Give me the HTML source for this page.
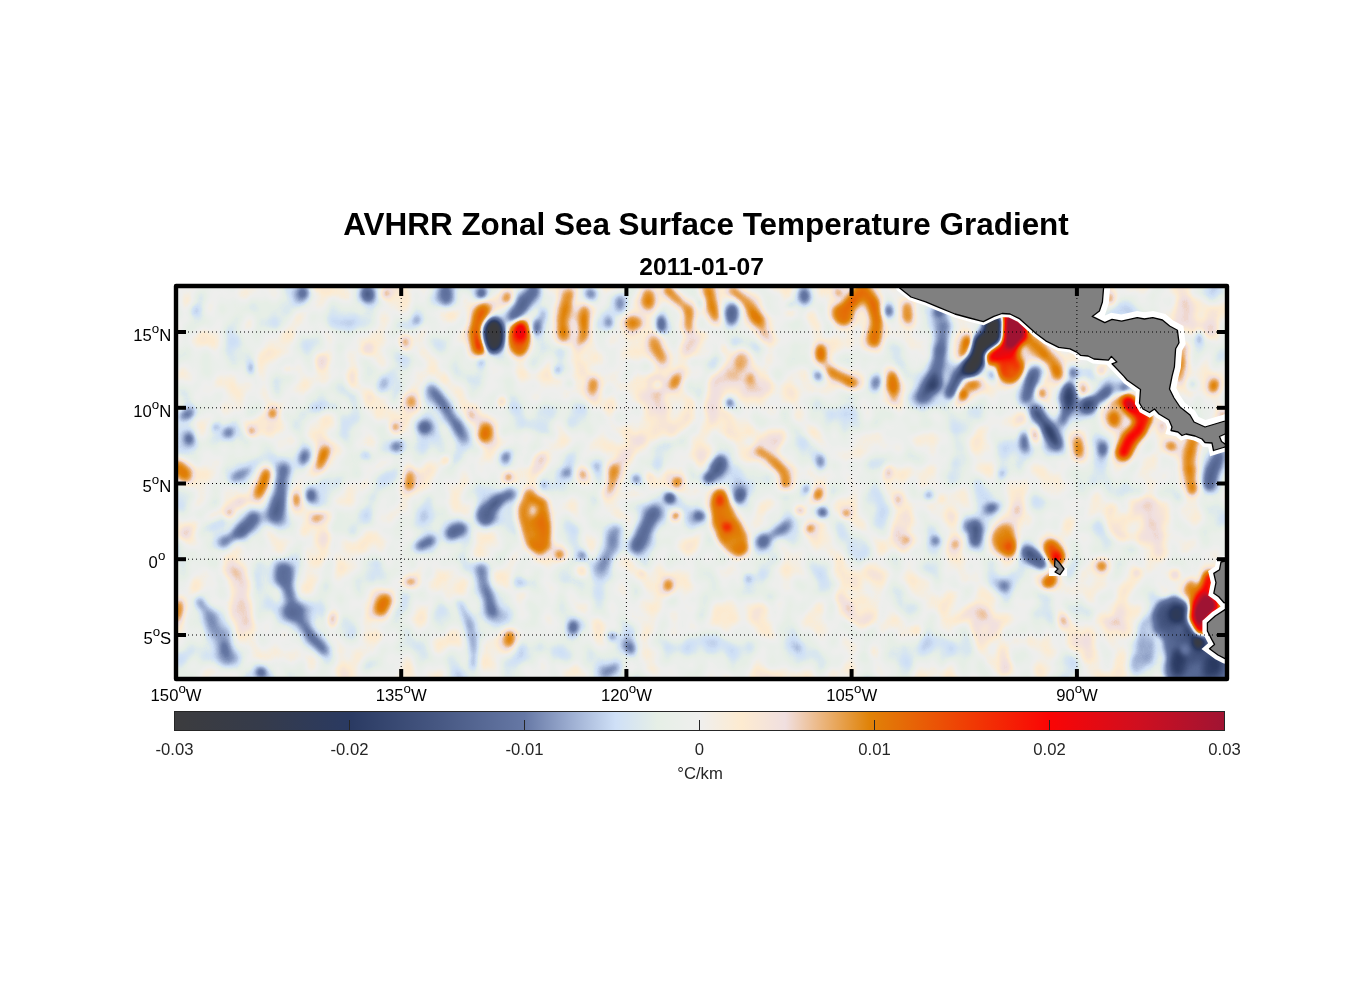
<!DOCTYPE html>
<html><head><meta charset="utf-8"><title>AVHRR Zonal Sea Surface Temperature Gradient</title>
<style>html,body{margin:0;padding:0;background:#fff}svg{display:block}text{font-family:"Liberation Sans",Arial,Helvetica,sans-serif}</style></head><body>
<svg width="1356" height="1000" viewBox="0 0 1356 1000">
<defs>
<clipPath id="mc"><rect x="176" y="286" width="1051" height="393"/></clipPath>
<filter id="cm" x="156" y="266" width="1091" height="433" filterUnits="userSpaceOnUse" color-interpolation-filters="sRGB">
<feGaussianBlur in="SourceGraphic" stdDeviation="3" result="b"/>
<feTurbulence type="fractalNoise" baseFrequency="0.036 0.03" numOctaves="2" seed="7" result="n"/>
<feColorMatrix in="n" type="matrix" values="1 0 0 0 0  1 0 0 0 0  1 0 0 0 0  0 0 0 0 1" result="ng"/>
<feComposite in="b" in2="ng" operator="arithmetic" k1="0" k2="1" k3="0.18" k4="-0.09" result="f"/>
<feComponentTransfer in="f"><feFuncR type="table" tableValues="0.235 0.234 0.232 0.231 0.230 0.228 0.227 0.225 0.224 0.223 0.221 0.220 0.218 0.217 0.216 0.214 0.213 0.211 0.210 0.208 0.207 0.204 0.202 0.200 0.198 0.195 0.193 0.191 0.189 0.187 0.184 0.182 0.180 0.178 0.175 0.173 0.171 0.169 0.167 0.166 0.171 0.177 0.182 0.188 0.194 0.199 0.205 0.211 0.216 0.222 0.228 0.233 0.239 0.245 0.250 0.256 0.262 0.267 0.273 0.279 0.286 0.292 0.299 0.305 0.311 0.318 0.324 0.331 0.337 0.342 0.347 0.351 0.356 0.361 0.365 0.370 0.375 0.380 0.384 0.389 0.394 0.398 0.410 0.425 0.441 0.456 0.471 0.487 0.502 0.517 0.533 0.548 0.563 0.583 0.602 0.620 0.639 0.657 0.675 0.693 0.712 0.730 0.748 0.767 0.785 0.803 0.816 0.825 0.834 0.847 0.861 0.874 0.887 0.900 0.906 0.912 0.917 0.922 0.927 0.932 0.937 0.945 0.953 0.961 0.969 0.977 0.985 0.991 0.984 0.977 0.970 0.963 0.955 0.951 0.946 0.941 0.939 0.937 0.935 0.933 0.931 0.929 0.927 0.925 0.921 0.918 0.914 0.910 0.906 0.904 0.901 0.899 0.897 0.894 0.892 0.889 0.887 0.885 0.882 0.880 0.879 0.881 0.882 0.884 0.885 0.887 0.889 0.890 0.892 0.893 0.895 0.897 0.898 0.901 0.904 0.907 0.910 0.913 0.916 0.919 0.922 0.925 0.928 0.931 0.934 0.937 0.940 0.943 0.945 0.947 0.950 0.952 0.954 0.957 0.959 0.961 0.964 0.966 0.968 0.971 0.973 0.975 0.978 0.980 0.974 0.965 0.956 0.947 0.938 0.929 0.920 0.911 0.902 0.893 0.884 0.875 0.866 0.857 0.848 0.839 0.830 0.821 0.812 0.802 0.791 0.781 0.771 0.761 0.750 0.740 0.730 0.720 0.709 0.699 0.689 0.679 0.668 0.658 0.648 0.638 0.627"/><feFuncG type="table" tableValues="0.235 0.235 0.235 0.235 0.234 0.234 0.234 0.234 0.234 0.233 0.233 0.233 0.233 0.233 0.232 0.232 0.232 0.232 0.232 0.231 0.231 0.231 0.231 0.231 0.230 0.230 0.230 0.230 0.230 0.229 0.229 0.229 0.229 0.229 0.228 0.228 0.228 0.228 0.228 0.228 0.234 0.240 0.246 0.252 0.258 0.263 0.269 0.275 0.281 0.287 0.293 0.299 0.304 0.310 0.316 0.322 0.328 0.334 0.340 0.346 0.353 0.359 0.366 0.373 0.379 0.386 0.393 0.399 0.406 0.411 0.416 0.420 0.425 0.430 0.435 0.440 0.445 0.450 0.454 0.459 0.464 0.469 0.481 0.496 0.511 0.526 0.541 0.556 0.571 0.586 0.601 0.616 0.631 0.650 0.669 0.687 0.705 0.724 0.742 0.760 0.778 0.797 0.815 0.833 0.851 0.870 0.881 0.887 0.893 0.902 0.910 0.919 0.927 0.936 0.937 0.937 0.937 0.937 0.937 0.937 0.937 0.935 0.933 0.930 0.928 0.926 0.924 0.921 0.914 0.907 0.901 0.894 0.888 0.883 0.879 0.874 0.855 0.836 0.818 0.799 0.780 0.762 0.743 0.725 0.707 0.690 0.673 0.655 0.638 0.627 0.617 0.606 0.595 0.585 0.574 0.563 0.553 0.542 0.531 0.521 0.511 0.504 0.497 0.490 0.483 0.476 0.469 0.461 0.454 0.447 0.440 0.433 0.426 0.413 0.399 0.386 0.373 0.359 0.346 0.333 0.319 0.306 0.293 0.280 0.266 0.253 0.240 0.227 0.214 0.201 0.189 0.176 0.163 0.150 0.138 0.125 0.112 0.099 0.086 0.074 0.061 0.048 0.035 0.023 0.021 0.023 0.025 0.028 0.030 0.032 0.034 0.036 0.038 0.040 0.043 0.045 0.047 0.049 0.051 0.053 0.055 0.057 0.059 0.060 0.061 0.062 0.063 0.065 0.066 0.067 0.068 0.069 0.070 0.071 0.072 0.073 0.074 0.075 0.076 0.077 0.078"/><feFuncB type="table" tableValues="0.243 0.246 0.248 0.251 0.254 0.256 0.259 0.262 0.264 0.267 0.269 0.272 0.275 0.277 0.280 0.282 0.285 0.288 0.290 0.293 0.297 0.301 0.306 0.311 0.315 0.320 0.325 0.329 0.334 0.339 0.343 0.348 0.352 0.357 0.362 0.366 0.371 0.376 0.380 0.385 0.392 0.398 0.405 0.411 0.418 0.424 0.430 0.437 0.443 0.450 0.456 0.463 0.469 0.476 0.482 0.489 0.495 0.501 0.508 0.515 0.522 0.529 0.536 0.543 0.550 0.557 0.564 0.571 0.578 0.584 0.589 0.594 0.599 0.604 0.609 0.614 0.620 0.625 0.630 0.635 0.640 0.645 0.655 0.668 0.680 0.692 0.705 0.717 0.729 0.742 0.754 0.766 0.779 0.794 0.810 0.824 0.838 0.852 0.866 0.879 0.893 0.907 0.921 0.934 0.948 0.962 0.965 0.959 0.952 0.942 0.933 0.923 0.913 0.903 0.906 0.910 0.915 0.920 0.924 0.929 0.933 0.916 0.899 0.882 0.865 0.848 0.830 0.817 0.826 0.835 0.843 0.852 0.861 0.867 0.873 0.876 0.833 0.789 0.745 0.702 0.658 0.614 0.571 0.527 0.486 0.446 0.405 0.364 0.323 0.298 0.273 0.248 0.223 0.198 0.173 0.148 0.123 0.098 0.073 0.048 0.031 0.031 0.030 0.030 0.030 0.029 0.029 0.028 0.028 0.028 0.027 0.027 0.026 0.026 0.025 0.024 0.023 0.023 0.022 0.021 0.020 0.020 0.019 0.018 0.017 0.017 0.016 0.016 0.016 0.016 0.017 0.017 0.017 0.017 0.017 0.018 0.018 0.018 0.018 0.019 0.019 0.019 0.019 0.020 0.024 0.029 0.035 0.040 0.046 0.052 0.057 0.063 0.068 0.074 0.079 0.085 0.090 0.096 0.101 0.107 0.113 0.118 0.123 0.127 0.132 0.136 0.140 0.145 0.149 0.153 0.157 0.162 0.166 0.170 0.174 0.179 0.183 0.187 0.191 0.196 0.200"/></feComponentTransfer>
</filter>
<filter id="sf" x="146" y="256" width="1111" height="453" filterUnits="userSpaceOnUse" color-interpolation-filters="sRGB"><feGaussianBlur stdDeviation="2"/></filter>
<linearGradient id="cb" x1="0" x2="1" y1="0" y2="0">
<stop offset="0.0000" stop-color="#3c3c3e"/>
<stop offset="0.0833" stop-color="#353b4b"/>
<stop offset="0.1667" stop-color="#2a3a62"/>
<stop offset="0.2500" stop-color="#465782"/>
<stop offset="0.3333" stop-color="#6678a5"/>
<stop offset="0.3750" stop-color="#9aabcf"/>
<stop offset="0.4200" stop-color="#cfe0f7"/>
<stop offset="0.4600" stop-color="#e6efe6"/>
<stop offset="0.5000" stop-color="#efefee"/>
<stop offset="0.5400" stop-color="#fdebd0"/>
<stop offset="0.5817" stop-color="#f0dfe0"/>
<stop offset="0.6133" stop-color="#ecb987"/>
<stop offset="0.6617" stop-color="#e08308"/>
<stop offset="0.7567" stop-color="#f03c04"/>
<stop offset="0.8333" stop-color="#fa0505"/>
<stop offset="0.9167" stop-color="#d00f1f"/>
<stop offset="1.0000" stop-color="#a01433"/>
</linearGradient>
</defs>
<rect width="1356" height="1000" fill="#fff"/>
<g clip-path="url(#mc)"><g filter="url(#cm)">
<rect x="156" y="266" width="1091" height="433" fill="#7d7d7d"/>
<g filter="url(#sf)">
<ellipse cx="303.7" cy="293" rx="10.6" ry="12.3" fill="#707070"/>
<ellipse cx="367" cy="294" rx="11.45" ry="13.15" fill="#707070"/>
<ellipse cx="385.5" cy="294" rx="8.5" ry="8.5" fill="#8b8b8b"/>
<ellipse cx="405.7" cy="342.4" rx="8.5" ry="12.5" fill="#8b8b8b"/>
<ellipse cx="411.6" cy="400.9" rx="10.5" ry="11.5" fill="#8b8b8b"/>
<ellipse cx="424.5" cy="427.6" rx="11.45" ry="11.45" fill="#707070"/>
<ellipse cx="272" cy="413.7" rx="9.5" ry="9.5" fill="#8b8b8b"/>
<ellipse cx="187" cy="414.7" rx="13.15" ry="9.75" fill="#707070" transform="rotate(-25 187 414.7)"/>
<ellipse cx="189" cy="438.5" rx="9.325" ry="10.6" fill="#707070"/>
<ellipse cx="228.5" cy="432.5" rx="10.6" ry="10.6" fill="#707070"/>
<ellipse cx="395.8" cy="446.4" rx="10.6" ry="11.45" fill="#707070" transform="rotate(30 395.8 446.4)"/>
<ellipse cx="322.5" cy="458.3" rx="10.5" ry="17.5" fill="#8b8b8b" transform="rotate(25 322.5 458.3)"/>
<ellipse cx="304.7" cy="456.3" rx="10.6" ry="13.15" fill="#707070" transform="rotate(20 304.7 456.3)"/>
<ellipse cx="241" cy="474" rx="17.4" ry="9.75" fill="#707070" transform="rotate(-30 241 474)"/>
<ellipse cx="182" cy="470" rx="12.5" ry="18.5" fill="#8b8b8b" transform="rotate(-35 182 470)"/>
<ellipse cx="408.7" cy="478" rx="9.5" ry="13.5" fill="#8b8b8b"/>
<ellipse cx="366" cy="455.3" rx="8.05" ry="8.05" fill="#707070"/>
<ellipse cx="445" cy="296" rx="13.15" ry="15.7" fill="#707070"/>
<ellipse cx="481.6" cy="293" rx="8.9" ry="10.6" fill="#707070"/>
<ellipse cx="507.3" cy="297" rx="11.5" ry="12.5" fill="#8b8b8b"/>
<path d="M534 290 L514 318" fill="none" stroke="#707070" stroke-width="23.5" stroke-linecap="round" stroke-linejoin="round"/>
<path d="M482.6 310.8 L475.6 329.6 L480.6 348.4" fill="none" stroke="#8b8b8b" stroke-width="24.85" stroke-linecap="round" stroke-linejoin="round"/>
<ellipse cx="493.5" cy="335.5" rx="16.5" ry="22.5" fill="#707070"/>
<ellipse cx="519.5" cy="338" rx="16.5" ry="23.5" fill="#8b8b8b"/>
<ellipse cx="520.5" cy="332" rx="13.5" ry="16.5" fill="#8b8b8b"/>
<ellipse cx="537" cy="325.6" rx="9.75" ry="14" fill="#707070"/>
<path d="M570 294 L566 308 L562 322 L564 338" fill="none" stroke="#8b8b8b" stroke-width="21" stroke-linecap="round" stroke-linejoin="round"/>
<path d="M584 308 L584 330 L582 346" fill="none" stroke="#8b8b8b" stroke-width="19" stroke-linecap="round" stroke-linejoin="round"/>
<ellipse cx="590.5" cy="294" rx="10.6" ry="10.6" fill="#707070"/>
<ellipse cx="620.2" cy="302.8" rx="9.75" ry="13.15" fill="#707070"/>
<ellipse cx="633" cy="323.6" rx="14.5" ry="12.5" fill="#8b8b8b"/>
<ellipse cx="648" cy="299" rx="12.5" ry="16.5" fill="#8b8b8b"/>
<ellipse cx="667.7" cy="289" rx="10.5" ry="7.5" fill="#8b8b8b"/>
<ellipse cx="660.8" cy="324.6" rx="8.9" ry="14.85" fill="#707070"/>
<path d="M668 290 L678 300 L689 312 L689 330" fill="none" stroke="#8b8b8b" stroke-width="18" stroke-linecap="round" stroke-linejoin="round"/>
<path d="M653 341 L664 361" fill="none" stroke="#8b8b8b" stroke-width="19" stroke-linecap="round" stroke-linejoin="round"/>
<ellipse cx="592.5" cy="385" rx="10.5" ry="14.5" fill="#8b8b8b"/>
<ellipse cx="674.7" cy="383" rx="9.5" ry="13.5" fill="#8b8b8b" transform="rotate(25 674.7 383)"/>
<ellipse cx="481.6" cy="362" rx="7.5" ry="10.6" fill="#707070"/>
<path d="M431 388 L441 400 L452 418 L464 438" fill="none" stroke="#707070" stroke-width="20" stroke-linecap="round" stroke-linejoin="round"/>
<ellipse cx="485.5" cy="432.5" rx="11.5" ry="14.5" fill="#8b8b8b" transform="rotate(15 485.5 432.5)"/>
<ellipse cx="470.7" cy="414.7" rx="7.5" ry="9.5" fill="#8b8b8b"/>
<ellipse cx="506.3" cy="456.3" rx="8.9" ry="11.45" fill="#707070" transform="rotate(20 506.3 456.3)"/>
<ellipse cx="508.3" cy="477" rx="8.5" ry="10.5" fill="#8b8b8b"/>
<ellipse cx="566.7" cy="473" rx="9.75" ry="8.05" fill="#707070"/>
<ellipse cx="582.6" cy="474" rx="7.5" ry="9.5" fill="#8b8b8b"/>
<ellipse cx="596.4" cy="466" rx="8.05" ry="8.05" fill="#707070"/>
<ellipse cx="636" cy="479" rx="8.9" ry="8.9" fill="#707070"/>
<ellipse cx="650" cy="477" rx="7.5" ry="9.5" fill="#8b8b8b"/>
<ellipse cx="677.6" cy="481" rx="9.5" ry="8.5" fill="#8b8b8b"/>
<path d="M708 288 L712 300 L716 318" fill="none" stroke="#8b8b8b" stroke-width="18" stroke-linecap="round" stroke-linejoin="round"/>
<path d="M733 290 L748 306 L760 322" fill="none" stroke="#8b8b8b" stroke-width="21" stroke-linecap="round" stroke-linejoin="round"/>
<path d="M760 322 L767 338" fill="none" stroke="#8b8b8b" stroke-width="17" stroke-linecap="round" stroke-linejoin="round"/>
<ellipse cx="731.7" cy="315.7" rx="11.45" ry="15.7" fill="#707070"/>
<ellipse cx="804" cy="296" rx="10.6" ry="14" fill="#707070"/>
<ellipse cx="838.6" cy="293" rx="8.5" ry="9.5" fill="#8b8b8b"/>
<path d="M840 316 L848 306 L857 295 L862 288" fill="none" stroke="#8b8b8b" stroke-width="24.85" stroke-linecap="round" stroke-linejoin="round"/>
<ellipse cx="842.6" cy="314.7" rx="16.5" ry="16.5" fill="#8b8b8b"/>
<path d="M864 290 L873 303 L877 320 L874 342" fill="none" stroke="#8b8b8b" stroke-width="23.7" stroke-linecap="round" stroke-linejoin="round"/>
<ellipse cx="889.1" cy="310.8" rx="8.9" ry="11.45" fill="#707070"/>
<ellipse cx="908" cy="312.5" rx="12" ry="17.5" fill="#8b8b8b"/>
<ellipse cx="820.8" cy="353.3" rx="9.5" ry="14.5" fill="#8b8b8b"/>
<path d="M830 371 L842 378 L854 384" fill="none" stroke="#8b8b8b" stroke-width="18.5" stroke-linecap="round" stroke-linejoin="round"/>
<ellipse cx="817.9" cy="376" rx="8.9" ry="8.9" fill="#707070"/>
<ellipse cx="876.3" cy="383" rx="10.6" ry="14" fill="#707070" transform="rotate(15 876.3 383)"/>
<ellipse cx="893.1" cy="383" rx="12" ry="18" fill="#8b8b8b"/>
<ellipse cx="893" cy="398" rx="7.5" ry="9.5" fill="#8b8b8b"/>
<ellipse cx="741.6" cy="361.2" rx="13.5" ry="15.5" fill="#8b8b8b"/>
<ellipse cx="722.8" cy="349.4" rx="7.5" ry="7.5" fill="#8b8b8b"/>
<ellipse cx="729.7" cy="402.8" rx="8.9" ry="10.6" fill="#707070"/>
<path d="M945 326 L941 350" fill="none" stroke="#707070" stroke-width="21.5" stroke-linecap="round" stroke-linejoin="round"/>
<path d="M940 350 L934 378 L922 398" fill="none" stroke="#707070" stroke-width="24.5" stroke-linecap="round" stroke-linejoin="round"/>
<ellipse cx="934" cy="382" rx="13" ry="16" fill="#707070"/>
<path d="M968 362 L958 378 L950 394" fill="none" stroke="#707070" stroke-width="21.5" stroke-linecap="round" stroke-linejoin="round"/>
<ellipse cx="965.4" cy="347.4" rx="10.5" ry="17.5" fill="#8b8b8b" transform="rotate(20 965.4 347.4)"/>
<ellipse cx="963.4" cy="395" rx="8.5" ry="10.5" fill="#8b8b8b"/>
<ellipse cx="939.6" cy="311.7" rx="9.75" ry="8.9" fill="#707070"/>
<ellipse cx="718" cy="466" rx="13" ry="17" fill="#707070" transform="rotate(25 718 466)"/>
<ellipse cx="709" cy="478" rx="9.75" ry="9.75" fill="#707070"/>
<path d="M761 451 L772 461 L782 470 L786 482" fill="none" stroke="#8b8b8b" stroke-width="18" stroke-linecap="round" stroke-linejoin="round"/>
<ellipse cx="820.8" cy="462.2" rx="8.9" ry="13.15" fill="#707070"/>
<path d="M1016 336 L1004 349 L992 357" fill="none" stroke="#8b8b8b" stroke-width="28.3" stroke-linecap="round" stroke-linejoin="round"/>
<ellipse cx="1010.5" cy="369" rx="19.5" ry="19.5" fill="#8b8b8b"/>
<ellipse cx="1010" cy="352" rx="14.5" ry="14.5" fill="#8b8b8b"/>
<path d="M1028 338 L1040 350 L1052 363 L1058 375" fill="none" stroke="#8b8b8b" stroke-width="23" stroke-linecap="round" stroke-linejoin="round"/>
<ellipse cx="1041.3" cy="393" rx="10.5" ry="12.5" fill="#8b8b8b"/>
<ellipse cx="1046" cy="380" rx="7.5" ry="9.5" fill="#8b8b8b"/>
<ellipse cx="974" cy="385" rx="12.5" ry="9.5" fill="#8b8b8b" transform="rotate(-20 974 385)"/>
<ellipse cx="968" cy="341.4" rx="8.5" ry="8.5" fill="#8b8b8b"/>
<path d="M1035 370 L1030 385 L1026 400" fill="none" stroke="#707070" stroke-width="18.5" stroke-linecap="round" stroke-linejoin="round"/>
<ellipse cx="1069" cy="396.9" rx="13" ry="20" fill="#707070"/>
<ellipse cx="1073" cy="372" rx="8.9" ry="11.45" fill="#707070"/>
<path d="M1034 410 L1046 425 L1057 444" fill="none" stroke="#707070" stroke-width="21.5" stroke-linecap="round" stroke-linejoin="round"/>
<ellipse cx="1050" cy="432" rx="12" ry="15" fill="#707070" transform="rotate(-30 1050 432)"/>
<path d="M1068 405 L1062 422" fill="none" stroke="#707070" stroke-width="18.5" stroke-linecap="round" stroke-linejoin="round"/>
<ellipse cx="1088.8" cy="404.8" rx="14" ry="14" fill="#707070"/>
<path d="M1084 408 L1095 400 L1108 392" fill="none" stroke="#707070" stroke-width="18.5" stroke-linecap="round" stroke-linejoin="round"/>
<ellipse cx="1024.4" cy="442.4" rx="9.75" ry="15.7" fill="#707070"/>
<ellipse cx="1001.7" cy="474" rx="8.05" ry="8.05" fill="#707070"/>
<ellipse cx="991.8" cy="375" rx="8.05" ry="8.05" fill="#707070"/>
<ellipse cx="1079" cy="446.4" rx="9.5" ry="16.5" fill="#8b8b8b"/>
<ellipse cx="1082.9" cy="389" rx="7.5" ry="11.5" fill="#8b8b8b"/>
<ellipse cx="1100.7" cy="371" rx="8.5" ry="9.5" fill="#8b8b8b"/>
<ellipse cx="1035.3" cy="434.5" rx="7.5" ry="11.5" fill="#8b8b8b"/>
<ellipse cx="1021.5" cy="418.7" rx="7.5" ry="7.5" fill="#8b8b8b"/>
<ellipse cx="1102.7" cy="448.4" rx="8.05" ry="11.45" fill="#707070"/>
<path d="M1127 400 L1134 410 L1144 418 L1140 428 L1130 440 L1124 452" fill="none" stroke="#8b8b8b" stroke-width="26.575" stroke-linecap="round" stroke-linejoin="round"/>
<ellipse cx="1114" cy="419" rx="10.5" ry="14.5" fill="#8b8b8b"/>
<path d="M1112 404 L1124 399" fill="none" stroke="#8b8b8b" stroke-width="16" stroke-linecap="round" stroke-linejoin="round"/>
<ellipse cx="1129" cy="405" rx="11.5" ry="11.5" fill="#8b8b8b"/>
<ellipse cx="1124" cy="456" rx="10.5" ry="8.5" fill="#8b8b8b"/>
<path d="M1193 312 L1188 328 L1185 345 L1181 360 L1178 378" fill="none" stroke="#8b8b8b" stroke-width="17.5" stroke-linecap="round" stroke-linejoin="round"/>
<ellipse cx="1214" cy="386" rx="8.5" ry="12.5" fill="#8b8b8b" transform="rotate(20 1214 386)"/>
<ellipse cx="1110.8" cy="299.6" rx="7.5" ry="10.5" fill="#8b8b8b"/>
<ellipse cx="1171" cy="446" rx="10.5" ry="9.5" fill="#8b8b8b"/>
<ellipse cx="1162" cy="425" rx="7.5" ry="10.5" fill="#8b8b8b"/>
<path d="M1193 440 L1189 458 L1190 482" fill="none" stroke="#8b8b8b" stroke-width="23" stroke-linecap="round" stroke-linejoin="round"/>
<path d="M1219 456 L1213 468 L1208 484" fill="none" stroke="#707070" stroke-width="23.5" stroke-linecap="round" stroke-linejoin="round"/>
<path d="M1100 396 L1110 388" fill="none" stroke="#707070" stroke-width="16.5" stroke-linecap="round" stroke-linejoin="round"/>
<ellipse cx="1125" cy="388" rx="8.05" ry="8.05" fill="#707070"/>
<ellipse cx="1103" cy="450" rx="8.9" ry="11.45" fill="#707070"/>
<ellipse cx="1223.4" cy="414.7" rx="7.5" ry="7.5" fill="#8b8b8b"/>
<path d="M267 472 L259 494" fill="none" stroke="#8b8b8b" stroke-width="21" stroke-linecap="round" stroke-linejoin="round"/>
<path d="M283 470 L281 490 L275 515" fill="none" stroke="#707070" stroke-width="24.5" stroke-linecap="round" stroke-linejoin="round"/>
<path d="M254 518 L240 532" fill="none" stroke="#707070" stroke-width="24.5" stroke-linecap="round" stroke-linejoin="round"/>
<path d="M240 532 L222 543" fill="none" stroke="#707070" stroke-width="18.5" stroke-linecap="round" stroke-linejoin="round"/>
<ellipse cx="310.7" cy="495" rx="9.75" ry="12.3" fill="#707070"/>
<ellipse cx="296.8" cy="499.8" rx="7.5" ry="11.5" fill="#8b8b8b"/>
<ellipse cx="318.6" cy="517.7" rx="13.5" ry="10.5" fill="#8b8b8b" transform="rotate(-30 318.6 517.7)"/>
<ellipse cx="409.7" cy="486" rx="8.5" ry="8.5" fill="#8b8b8b"/>
<ellipse cx="425.5" cy="543.4" rx="16.55" ry="10.175" fill="#707070" transform="rotate(-25 425.5 543.4)"/>
<path d="M281 568 L288 590 L296 612" fill="none" stroke="#707070" stroke-width="22.5" stroke-linecap="round" stroke-linejoin="round"/>
<path d="M298 618 L311 636 L324 651" fill="none" stroke="#707070" stroke-width="18" stroke-linecap="round" stroke-linejoin="round"/>
<ellipse cx="285" cy="576" rx="14.85" ry="18.25" fill="#707070"/>
<ellipse cx="294" cy="611" rx="14.85" ry="15.7" fill="#707070" transform="rotate(-20 294 611)"/>
<path d="M210 616 L220 635 L228 658" fill="none" stroke="#707070" stroke-width="24.5" stroke-linecap="round" stroke-linejoin="round"/>
<ellipse cx="225" cy="648" rx="9.75" ry="13.15" fill="#707070"/>
<ellipse cx="179" cy="610" rx="9.5" ry="18.5" fill="#8b8b8b" transform="rotate(8 179 610)"/>
<ellipse cx="384" cy="604.8" rx="12.5" ry="16.5" fill="#8b8b8b" transform="rotate(30 384 604.8)"/>
<ellipse cx="409.7" cy="582" rx="11.5" ry="8.5" fill="#8b8b8b"/>
<ellipse cx="261" cy="672" rx="8.9" ry="8.9" fill="#707070"/>
<ellipse cx="455.8" cy="531.5" rx="17.4" ry="11.45" fill="#707070" transform="rotate(-25 455.8 531.5)"/>
<ellipse cx="485" cy="515" rx="14" ry="15.7" fill="#707070"/>
<path d="M488 510 L498 500 L510 494" fill="none" stroke="#707070" stroke-width="20.5" stroke-linecap="round" stroke-linejoin="round"/>
<ellipse cx="559.8" cy="555.3" rx="8.5" ry="8.5" fill="#8b8b8b"/>
<path d="M614 468 L609 492" fill="none" stroke="#8b8b8b" stroke-width="19" stroke-linecap="round" stroke-linejoin="round"/>
<ellipse cx="543" cy="486" rx="8.05" ry="8.05" fill="#707070"/>
<path d="M616 528 L612 548 L600 568" fill="none" stroke="#707070" stroke-width="21.5" stroke-linecap="round" stroke-linejoin="round"/>
<ellipse cx="582.6" cy="555.3" rx="8.9" ry="8.9" fill="#707070"/>
<path d="M655 512 L645 528 L636 546" fill="none" stroke="#707070" stroke-width="24.5" stroke-linecap="round" stroke-linejoin="round"/>
<ellipse cx="669.7" cy="497.9" rx="9.75" ry="9.75" fill="#707070"/>
<ellipse cx="675.6" cy="515.7" rx="10.5" ry="8.5" fill="#8b8b8b" transform="rotate(-30 675.6 515.7)"/>
<ellipse cx="699.4" cy="515.7" rx="10.6" ry="9.75" fill="#707070"/>
<ellipse cx="675.6" cy="485" rx="8.5" ry="7.5" fill="#8b8b8b"/>
<path d="M480 568 L486 590 L493 612" fill="none" stroke="#707070" stroke-width="21.5" stroke-linecap="round" stroke-linejoin="round"/>
<ellipse cx="510.3" cy="638.5" rx="10.5" ry="14.5" fill="#8b8b8b"/>
<ellipse cx="572.7" cy="626.6" rx="9.75" ry="12.3" fill="#707070"/>
<ellipse cx="668.7" cy="585" rx="7.5" ry="10.5" fill="#8b8b8b"/>
<ellipse cx="581.6" cy="572" rx="7.5" ry="7.5" fill="#8b8b8b"/>
<ellipse cx="630" cy="648.4" rx="9.75" ry="12.3" fill="#707070" transform="rotate(-30 630 648.4)"/>
<ellipse cx="610.3" cy="670" rx="15.7" ry="9.75" fill="#707070" transform="rotate(-30 610.3 670)"/>
<ellipse cx="720" cy="500" rx="10.5" ry="13.5" fill="#8b8b8b"/>
<ellipse cx="727" cy="527" rx="11.5" ry="10.5" fill="#8b8b8b"/>
<ellipse cx="740.6" cy="495.9" rx="9.75" ry="12.3" fill="#707070" transform="rotate(20 740.6 495.9)"/>
<ellipse cx="763.4" cy="541.4" rx="12.3" ry="13.15" fill="#707070"/>
<path d="M768 538 L780 530 L789 524" fill="none" stroke="#707070" stroke-width="16.5" stroke-linecap="round" stroke-linejoin="round"/>
<ellipse cx="822.8" cy="512.7" rx="10.6" ry="10.6" fill="#707070"/>
<ellipse cx="807" cy="489" rx="8.05" ry="9.75" fill="#707070"/>
<ellipse cx="817.9" cy="494.9" rx="8.5" ry="11.5" fill="#8b8b8b" transform="rotate(30 817.9 494.9)"/>
<ellipse cx="785.2" cy="485" rx="9.5" ry="7.5" fill="#8b8b8b"/>
<ellipse cx="900" cy="517.7" rx="7.5" ry="7.5" fill="#8b8b8b"/>
<ellipse cx="907" cy="539.4" rx="8.5" ry="8.5" fill="#8b8b8b"/>
<ellipse cx="955.5" cy="544.4" rx="8.5" ry="7.5" fill="#8b8b8b"/>
<ellipse cx="966.4" cy="526.6" rx="7.5" ry="12.3" fill="#707070"/>
<ellipse cx="975" cy="533.5" rx="11.45" ry="19.1" fill="#707070"/>
<ellipse cx="991.8" cy="507.8" rx="12.3" ry="8.9" fill="#707070" transform="rotate(-20 991.8 507.8)"/>
<ellipse cx="1003.6" cy="539.4" rx="17.5" ry="19.5" fill="#8b8b8b"/>
<ellipse cx="1010.6" cy="547.4" rx="12.5" ry="14.5" fill="#8b8b8b"/>
<ellipse cx="1017.5" cy="509.7" rx="7.5" ry="7.5" fill="#8b8b8b"/>
<ellipse cx="1035.3" cy="558.3" rx="20" ry="13" fill="#707070" transform="rotate(40 1035.3 558.3)"/>
<ellipse cx="1054" cy="552" rx="14.5" ry="18.5" fill="#8b8b8b" transform="rotate(-35 1054 552)"/>
<ellipse cx="1057" cy="558" rx="11.5" ry="12.5" fill="#8b8b8b"/>
<ellipse cx="1049.2" cy="582" rx="13.5" ry="10.5" fill="#8b8b8b" transform="rotate(-40 1049.2 582)"/>
<ellipse cx="1063" cy="620.6" rx="7.5" ry="10.5" fill="#8b8b8b"/>
<ellipse cx="1101.7" cy="566.2" rx="9.5" ry="9.5" fill="#8b8b8b"/>
<ellipse cx="1175" cy="575" rx="8.5" ry="8.5" fill="#8b8b8b"/>
<ellipse cx="1004.6" cy="586" rx="9.75" ry="10.6" fill="#707070"/>
<ellipse cx="1191.8" cy="489" rx="10.5" ry="11.5" fill="#8b8b8b"/>
<ellipse cx="1210.6" cy="488" rx="8.05" ry="8.05" fill="#707070"/>
<ellipse cx="1179.7" cy="613.9" rx="18" ry="16" fill="#707070"/>
<ellipse cx="1198.2" cy="639.4" rx="11" ry="15" fill="#707070"/>
<ellipse cx="1178.3" cy="662.2" rx="14" ry="20" fill="#707070"/>
<ellipse cx="1212.4" cy="667.8" rx="17" ry="17" fill="#707070"/>
<ellipse cx="1192" cy="628" rx="14" ry="14" fill="#707070"/>
<ellipse cx="1191" cy="588.3" rx="12.5" ry="14.5" fill="#8b8b8b"/>
<path d="M1209 578 L1205 590 L1196 604 L1194 618 L1201 630" fill="none" stroke="#8b8b8b" stroke-width="24.85" stroke-linecap="round" stroke-linejoin="round"/>
<ellipse cx="1217" cy="602" rx="7.5" ry="7.5" fill="#8b8b8b"/>
<path d="M180 536 L215 515 L240 502 L262 490" fill="none" stroke="#8e8e8e" stroke-width="9" stroke-linecap="round" stroke-linejoin="round"/>
<path d="M230 560 L236 600 L250 640" fill="none" stroke="#898989" stroke-width="15" stroke-linecap="round" stroke-linejoin="round"/>
<path d="M534 290 L514 318" fill="none" stroke="#444444" stroke-width="10.5" stroke-linecap="round" stroke-linejoin="round"/>
<path d="M482.6 310.8 L475.6 329.6 L480.6 348.4" fill="none" stroke="#c2c2c2" stroke-width="11.85" stroke-linecap="round" stroke-linejoin="round"/>
<path d="M570 294 L566 308 L562 322 L564 338" fill="none" stroke="#b0b0b0" stroke-width="8" stroke-linecap="round" stroke-linejoin="round"/>
<path d="M584 308 L584 330 L582 346" fill="none" stroke="#bababa" stroke-width="6" stroke-linecap="round" stroke-linejoin="round"/>
<path d="M668 290 L678 300 L689 312 L689 330" fill="none" stroke="#c1c1c1" stroke-width="5" stroke-linecap="round" stroke-linejoin="round"/>
<path d="M653 341 L664 361" fill="none" stroke="#adadad" stroke-width="6" stroke-linecap="round" stroke-linejoin="round"/>
<path d="M431 388 L441 400 L452 418 L464 438" fill="none" stroke="#494949" stroke-width="7" stroke-linecap="round" stroke-linejoin="round"/>
<path d="M708 288 L712 300 L716 318" fill="none" stroke="#bababa" stroke-width="5" stroke-linecap="round" stroke-linejoin="round"/>
<path d="M733 290 L748 306 L760 322" fill="none" stroke="#b5b5b5" stroke-width="8" stroke-linecap="round" stroke-linejoin="round"/>
<path d="M760 322 L767 338" fill="none" stroke="#adadad" stroke-width="4" stroke-linecap="round" stroke-linejoin="round"/>
<path d="M840 316 L848 306 L857 295 L862 288" fill="none" stroke="#bdbdbd" stroke-width="11.85" stroke-linecap="round" stroke-linejoin="round"/>
<path d="M864 290 L873 303 L877 320 L874 342" fill="none" stroke="#c2c2c2" stroke-width="10.7" stroke-linecap="round" stroke-linejoin="round"/>
<path d="M830 371 L842 378 L854 384" fill="none" stroke="#c4c4c4" stroke-width="5.5" stroke-linecap="round" stroke-linejoin="round"/>
<path d="M945 326 L941 350" fill="none" stroke="#535353" stroke-width="8.5" stroke-linecap="round" stroke-linejoin="round"/>
<path d="M940 350 L934 378 L922 398" fill="none" stroke="#3d3d3d" stroke-width="11.5" stroke-linecap="round" stroke-linejoin="round"/>
<path d="M761 451 L772 461 L782 470 L786 482" fill="none" stroke="#c1c1c1" stroke-width="5" stroke-linecap="round" stroke-linejoin="round"/>
<path d="M1028 338 L1040 350 L1052 363 L1058 375" fill="none" stroke="#b3b3b3" stroke-width="10" stroke-linecap="round" stroke-linejoin="round"/>
<path d="M1035 370 L1030 385 L1026 400" fill="none" stroke="#323232" stroke-width="5.5" stroke-linecap="round" stroke-linejoin="round"/>
<path d="M1034 410 L1046 425 L1057 444" fill="none" stroke="#313131" stroke-width="8.5" stroke-linecap="round" stroke-linejoin="round"/>
<path d="M1068 405 L1062 422" fill="none" stroke="#2a2a2a" stroke-width="5.5" stroke-linecap="round" stroke-linejoin="round"/>
<path d="M1084 408 L1095 400 L1108 392" fill="none" stroke="#2a2a2a" stroke-width="5.5" stroke-linecap="round" stroke-linejoin="round"/>
<path d="M1112 404 L1124 399" fill="none" stroke="#c7c7c7" stroke-width="3" stroke-linecap="round" stroke-linejoin="round"/>
<path d="M1193 312 L1188 328 L1185 345 L1181 360 L1178 378" fill="none" stroke="#c1c1c1" stroke-width="4.5" stroke-linecap="round" stroke-linejoin="round"/>
<path d="M1193 440 L1189 458 L1190 482" fill="none" stroke="#aeaeae" stroke-width="10" stroke-linecap="round" stroke-linejoin="round"/>
<path d="M1219 456 L1213 468 L1208 484" fill="none" stroke="#3f3f3f" stroke-width="10.5" stroke-linecap="round" stroke-linejoin="round"/>
<path d="M1100 396 L1110 388" fill="none" stroke="#2a2a2a" stroke-width="3.5" stroke-linecap="round" stroke-linejoin="round"/>
<path d="M267 472 L259 494" fill="none" stroke="#c0c0c0" stroke-width="8" stroke-linecap="round" stroke-linejoin="round"/>
<path d="M283 470 L281 490 L275 515" fill="none" stroke="#464646" stroke-width="11.5" stroke-linecap="round" stroke-linejoin="round"/>
<path d="M254 518 L240 532" fill="none" stroke="#464646" stroke-width="11.5" stroke-linecap="round" stroke-linejoin="round"/>
<path d="M240 532 L222 543" fill="none" stroke="#393939" stroke-width="5.5" stroke-linecap="round" stroke-linejoin="round"/>
<path d="M281 568 L288 590 L296 612" fill="none" stroke="#4b4b4b" stroke-width="9.5" stroke-linecap="round" stroke-linejoin="round"/>
<path d="M298 618 L311 636 L324 651" fill="none" stroke="#3c3c3c" stroke-width="5" stroke-linecap="round" stroke-linejoin="round"/>
<path d="M199 601 L210 616" fill="none" stroke="#545454" stroke-width="6.5" stroke-linecap="round" stroke-linejoin="round"/>
<path d="M210 616 L220 635 L228 658" fill="none" stroke="#5d5d5d" stroke-width="11.5" stroke-linecap="round" stroke-linejoin="round"/>
<path d="M488 510 L498 500 L510 494" fill="none" stroke="#373737" stroke-width="7.5" stroke-linecap="round" stroke-linejoin="round"/>
<path d="M614 468 L609 492" fill="none" stroke="#bababa" stroke-width="6" stroke-linecap="round" stroke-linejoin="round"/>
<path d="M616 528 L612 548 L600 568" fill="none" stroke="#535353" stroke-width="8.5" stroke-linecap="round" stroke-linejoin="round"/>
<path d="M655 512 L645 528 L636 546" fill="none" stroke="#4d4d4d" stroke-width="11.5" stroke-linecap="round" stroke-linejoin="round"/>
<path d="M480 568 L486 590 L493 612" fill="none" stroke="#4a4a4a" stroke-width="8.5" stroke-linecap="round" stroke-linejoin="round"/>
<path d="M460 603 L470 625 L475 650 L473 665" fill="none" stroke="#575757" stroke-width="6.5" stroke-linecap="round" stroke-linejoin="round"/>
<path d="M768 538 L780 530 L789 524" fill="none" stroke="#393939" stroke-width="3.5" stroke-linecap="round" stroke-linejoin="round"/>
</g>
<ellipse cx="265" cy="424.6" rx="25" ry="10" fill="#898989"/>
<ellipse cx="324.5" cy="406.8" rx="15" ry="6" fill="#737373"/>
<ellipse cx="322.5" cy="362" rx="7" ry="8" fill="#8b8b8b"/>
<ellipse cx="287" cy="369" rx="5" ry="5" fill="#8e8e8e"/>
<ellipse cx="369" cy="349" rx="6" ry="6" fill="#8e8e8e"/>
<ellipse cx="352" cy="381" rx="4" ry="10" fill="#8a8a8a"/>
<ellipse cx="243" cy="603" rx="10" ry="38" fill="#878787"/>
<ellipse cx="314.6" cy="543.4" rx="14" ry="25" fill="#888888"/>
<ellipse cx="862" cy="611" rx="18" ry="15" fill="#888888"/>
<ellipse cx="955" cy="607" rx="15" ry="18" fill="#898989"/>
<ellipse cx="840.6" cy="579" rx="6" ry="25" fill="#898989"/>
<ellipse cx="902" cy="523.6" rx="10" ry="30" fill="#878787"/>
<ellipse cx="874" cy="646" rx="6" ry="10" fill="#898989"/>
<ellipse cx="917" cy="630.5" rx="8" ry="5" fill="#8a8a8a"/>
<ellipse cx="539" cy="464" rx="8" ry="12" fill="#8c8c8c" transform="rotate(30 539 464)"/>
<ellipse cx="650" cy="410" rx="45" ry="35" fill="#878787"/>
<ellipse cx="740" cy="400" rx="35" ry="40" fill="#878787"/>
<ellipse cx="590" cy="360" rx="14" ry="22" fill="#898989"/>
<ellipse cx="700" cy="345" rx="20" ry="14" fill="#898989"/>
<ellipse cx="770" cy="430" rx="16" ry="22" fill="#898989"/>
<ellipse cx="1195" cy="320" rx="25" ry="25" fill="#878787"/>
<ellipse cx="1140" cy="520" rx="35" ry="25" fill="#878787"/>
<ellipse cx="1100" cy="640" rx="30" ry="25" fill="#878787"/>
<ellipse cx="990" cy="640" rx="14" ry="40" fill="#898989" transform="rotate(-25 990 640)"/>
<ellipse cx="303.7" cy="293" rx="4.6" ry="6.3" fill="#4a4a4a"/>
<ellipse cx="367" cy="294" rx="5.45" ry="7.15" fill="#414141"/>
<ellipse cx="385.5" cy="294" rx="2.5" ry="2.5" fill="#bebebe"/>
<ellipse cx="251.2" cy="368.2" rx="2.9" ry="7.15" fill="#575757"/>
<ellipse cx="382" cy="386" rx="6" ry="9" fill="#696969" transform="rotate(20 382 386)"/>
<ellipse cx="416.6" cy="320.7" rx="5" ry="5" fill="#636363"/>
<ellipse cx="405.7" cy="342.4" rx="2.5" ry="6.5" fill="#aeaeae"/>
<ellipse cx="411.6" cy="400.9" rx="4.5" ry="5.5" fill="#a4a4a4"/>
<ellipse cx="424.5" cy="427.6" rx="5.45" ry="5.45" fill="#464646"/>
<ellipse cx="272" cy="413.7" rx="3.5" ry="3.5" fill="#b6b6b6"/>
<ellipse cx="251" cy="431.5" rx="4" ry="4" fill="#a4a4a4"/>
<ellipse cx="187" cy="414.7" rx="7.15" ry="3.75" fill="#494949" transform="rotate(-25 187 414.7)"/>
<ellipse cx="189" cy="438.5" rx="3.325" ry="4.6" fill="#444444"/>
<ellipse cx="228.5" cy="432.5" rx="4.6" ry="4.6" fill="#484848"/>
<ellipse cx="215.6" cy="426.6" rx="3.75" ry="2.05" fill="#4c4c4c" transform="rotate(-30 215.6 426.6)"/>
<ellipse cx="394.8" cy="427" rx="3.5" ry="2.5" fill="#b2b2b2"/>
<ellipse cx="395.8" cy="446.4" rx="4.6" ry="5.45" fill="#4d4d4d" transform="rotate(30 395.8 446.4)"/>
<ellipse cx="322.5" cy="458.3" rx="4.5" ry="11.5" fill="#adadad" transform="rotate(25 322.5 458.3)"/>
<ellipse cx="304.7" cy="456.3" rx="4.6" ry="7.15" fill="#4d4d4d" transform="rotate(20 304.7 456.3)"/>
<ellipse cx="241" cy="474" rx="11.4" ry="3.75" fill="#555555" transform="rotate(-30 241 474)"/>
<ellipse cx="182" cy="470" rx="6.5" ry="12.5" fill="#ababab" transform="rotate(-35 182 470)"/>
<ellipse cx="408.7" cy="478" rx="3.5" ry="7.5" fill="#a8a8a8"/>
<ellipse cx="366" cy="455.3" rx="2.05" ry="2.05" fill="#444444"/>
<ellipse cx="195" cy="310" rx="5" ry="6" fill="#727272"/>
<ellipse cx="445" cy="296" rx="7.15" ry="9.7" fill="#545454"/>
<ellipse cx="481.6" cy="293" rx="2.9" ry="4.6" fill="#2e2e2e"/>
<ellipse cx="507.3" cy="297" rx="5.5" ry="6.5" fill="#adadad"/>
<ellipse cx="493.5" cy="335.5" rx="10.5" ry="16.5" fill="#000000"/>
<ellipse cx="519.5" cy="338" rx="10.5" ry="17.5" fill="#c4c4c4"/>
<ellipse cx="520.5" cy="332" rx="7.5" ry="10.5" fill="#dedede"/>
<ellipse cx="537" cy="325.6" rx="3.75" ry="8" fill="#464646"/>
<ellipse cx="543" cy="315.7" rx="2.05" ry="8" fill="#555555"/>
<ellipse cx="590.5" cy="294" rx="4.6" ry="4.6" fill="#4e4e4e"/>
<ellipse cx="620.2" cy="302.8" rx="3.75" ry="7.15" fill="#4e4e4e"/>
<ellipse cx="609.3" cy="322.6" rx="2.05" ry="5.45" fill="#4c4c4c"/>
<ellipse cx="633" cy="323.6" rx="8.5" ry="6.5" fill="#a9a9a9"/>
<ellipse cx="648" cy="299" rx="6.5" ry="10.5" fill="#a8a8a8"/>
<ellipse cx="667.7" cy="289" rx="4.5" ry="1.5" fill="#cecece"/>
<ellipse cx="660.8" cy="324.6" rx="2.9" ry="8.85" fill="#313131"/>
<ellipse cx="592.5" cy="385" rx="4.5" ry="8.5" fill="#a7a7a7"/>
<ellipse cx="674.7" cy="383" rx="3.5" ry="7.5" fill="#a8a8a8" transform="rotate(25 674.7 383)"/>
<ellipse cx="556.8" cy="371" rx="2.05" ry="4.6" fill="#4c4c4c"/>
<ellipse cx="569.7" cy="383" rx="2.05" ry="2.05" fill="#4c4c4c"/>
<ellipse cx="481.6" cy="362" rx="1.5" ry="4.6" fill="#3c3c3c"/>
<ellipse cx="485.5" cy="432.5" rx="5.5" ry="8.5" fill="#aeaeae" transform="rotate(15 485.5 432.5)"/>
<ellipse cx="470.7" cy="414.7" rx="1.5" ry="3.5" fill="#b6b6b6"/>
<ellipse cx="502.4" cy="400.9" rx="1.5" ry="4.5" fill="#b2b2b2"/>
<ellipse cx="546" cy="439.5" rx="1.5" ry="1.5" fill="#b2b2b2"/>
<ellipse cx="506.3" cy="456.3" rx="2.9" ry="5.45" fill="#454545" transform="rotate(20 506.3 456.3)"/>
<ellipse cx="508.3" cy="477" rx="2.5" ry="4.5" fill="#bebebe"/>
<ellipse cx="566.7" cy="473" rx="3.75" ry="2.05" fill="#3c3c3c"/>
<ellipse cx="582.6" cy="474" rx="1.5" ry="3.5" fill="#b6b6b6"/>
<ellipse cx="596.4" cy="466" rx="2.05" ry="2.05" fill="#444444"/>
<ellipse cx="636" cy="479" rx="2.9" ry="2.9" fill="#333333"/>
<ellipse cx="650" cy="477" rx="1.5" ry="3.5" fill="#b6b6b6"/>
<ellipse cx="677.6" cy="481" rx="3.5" ry="2.5" fill="#c6c6c6"/>
<ellipse cx="446" cy="460" rx="2.5" ry="2.5" fill="#b2b2b2"/>
<ellipse cx="657.8" cy="385" rx="3" ry="3" fill="#555555"/>
<ellipse cx="701" cy="304" rx="2.05" ry="6.3" fill="#4e4e4e"/>
<ellipse cx="731.7" cy="315.7" rx="5.45" ry="9.7" fill="#4a4a4a"/>
<ellipse cx="804" cy="296" rx="4.6" ry="8" fill="#4a4a4a"/>
<ellipse cx="790" cy="305" rx="3.75" ry="2.05" fill="#4c4c4c"/>
<ellipse cx="838.6" cy="293" rx="2.5" ry="3.5" fill="#bebebe"/>
<ellipse cx="842.6" cy="314.7" rx="10.5" ry="10.5" fill="#bbbbbb"/>
<ellipse cx="889.1" cy="310.8" rx="2.9" ry="5.45" fill="#3e3e3e"/>
<ellipse cx="908" cy="312.5" rx="6" ry="11.5" fill="#adadad"/>
<ellipse cx="820.8" cy="353.3" rx="3.5" ry="8.5" fill="#bababa"/>
<ellipse cx="817.9" cy="376" rx="2.9" ry="2.9" fill="#3c3c3c"/>
<ellipse cx="876.3" cy="383" rx="4.6" ry="8" fill="#4f4f4f" transform="rotate(15 876.3 383)"/>
<ellipse cx="893.1" cy="383" rx="6" ry="12" fill="#b1b1b1"/>
<ellipse cx="893" cy="398" rx="1.5" ry="3.5" fill="#b6b6b6"/>
<ellipse cx="741.6" cy="361.2" rx="7.5" ry="9.5" fill="#9f9f9f"/>
<ellipse cx="750" cy="378" rx="4" ry="6" fill="#9c9c9c"/>
<ellipse cx="722.8" cy="349.4" rx="1.5" ry="1.5" fill="#b6b6b6"/>
<ellipse cx="729.7" cy="402.8" rx="2.9" ry="4.6" fill="#474747"/>
<ellipse cx="934" cy="382" rx="7" ry="10" fill="#2d2d2d"/>
<path d="M968 362 L958 378 L950 394" fill="none" stroke="#333333" stroke-width="8.5" stroke-linecap="round" stroke-linejoin="round"/>
<ellipse cx="965.4" cy="347.4" rx="4.5" ry="11.5" fill="#bababa" transform="rotate(20 965.4 347.4)"/>
<ellipse cx="963.4" cy="395" rx="2.5" ry="4.5" fill="#d6d6d6"/>
<ellipse cx="939.6" cy="311.7" rx="3.75" ry="2.9" fill="#3c3c3c"/>
<ellipse cx="718" cy="466" rx="7" ry="11" fill="#3f3f3f" transform="rotate(25 718 466)"/>
<ellipse cx="709" cy="478" rx="3.75" ry="3.75" fill="#292929"/>
<ellipse cx="820.8" cy="462.2" rx="2.9" ry="7.15" fill="#4e4e4e"/>
<ellipse cx="888" cy="472" rx="1.5" ry="6.5" fill="#b2b2b2"/>
<path d="M985 321 L1001 316 L1003 334 L999 344 L990 349 L986 361 L977 374 L965 377 L964 366 L972 352 L974 339 L984 331Z" fill="#000000"/>
<path d="M1016 336 L1004 349 L992 357" fill="none" stroke="#d9d9d9" stroke-width="15.3" stroke-linecap="round" stroke-linejoin="round"/>
<ellipse cx="1010.5" cy="369" rx="13.5" ry="13.5" fill="#cacaca"/>
<ellipse cx="1010" cy="352" rx="8.5" ry="8.5" fill="#d6d6d6"/>
<path d="M1003 312 L1011 312 L1026 325 L1027 337 L1018 347 L1006 349 L1002 336Z" fill="#ffffff"/>
<ellipse cx="1022" cy="356" rx="3" ry="5" fill="#8b8b8b"/>
<ellipse cx="1041.3" cy="393" rx="4.5" ry="6.5" fill="#b5b5b5"/>
<ellipse cx="1046" cy="380" rx="1.5" ry="3.5" fill="#bebebe"/>
<ellipse cx="974" cy="385" rx="6.5" ry="3.5" fill="#ababab" transform="rotate(-20 974 385)"/>
<ellipse cx="968" cy="341.4" rx="2.5" ry="2.5" fill="#cecece"/>
<ellipse cx="1069" cy="396.9" rx="7" ry="14" fill="#2e2e2e"/>
<ellipse cx="1073" cy="372" rx="2.9" ry="5.45" fill="#373737"/>
<ellipse cx="1050" cy="432" rx="6" ry="9" fill="#2b2b2b" transform="rotate(-30 1050 432)"/>
<ellipse cx="1088.8" cy="404.8" rx="8" ry="8" fill="#2c2c2c"/>
<ellipse cx="1024.4" cy="442.4" rx="3.75" ry="9.7" fill="#454545"/>
<ellipse cx="1001.7" cy="474" rx="2.05" ry="2.05" fill="#2a2a2a"/>
<ellipse cx="991.8" cy="375" rx="2.05" ry="2.05" fill="#3c3c3c"/>
<ellipse cx="1079" cy="446.4" rx="3.5" ry="10.5" fill="#a8a8a8"/>
<ellipse cx="1082.9" cy="389" rx="1.5" ry="5.5" fill="#bebebe"/>
<ellipse cx="1100.7" cy="371" rx="2.5" ry="3.5" fill="#bebebe"/>
<ellipse cx="1035.3" cy="434.5" rx="1.5" ry="5.5" fill="#b6b6b6"/>
<ellipse cx="1021.5" cy="418.7" rx="1.5" ry="1.5" fill="#b6b6b6"/>
<ellipse cx="1102.7" cy="448.4" rx="2.05" ry="5.45" fill="#3c3c3c"/>
<path d="M1127 400 L1134 410 L1144 418 L1140 428 L1130 440 L1124 452" fill="none" stroke="#d9d9d9" stroke-width="13.575" stroke-linecap="round" stroke-linejoin="round"/>
<ellipse cx="1114" cy="419" rx="4.5" ry="8.5" fill="#b0b0b0"/>
<ellipse cx="1129" cy="405" rx="5.5" ry="5.5" fill="#ffffff"/>
<ellipse cx="1124" cy="456" rx="4.5" ry="2.5" fill="#d6d6d6"/>
<ellipse cx="1214" cy="386" rx="2.5" ry="6.5" fill="#c1c1c1" transform="rotate(20 1214 386)"/>
<ellipse cx="1199.6" cy="336.8" rx="3" ry="7" fill="#616161"/>
<ellipse cx="1192.4" cy="384.8" rx="5" ry="5" fill="#636363"/>
<ellipse cx="1110.8" cy="299.6" rx="1.5" ry="4.5" fill="#bebebe"/>
<ellipse cx="1171" cy="446" rx="4.5" ry="3.5" fill="#aeaeae"/>
<ellipse cx="1162" cy="425" rx="1.5" ry="4.5" fill="#b6b6b6"/>
<ellipse cx="1125" cy="388" rx="2.05" ry="2.05" fill="#2a2a2a"/>
<ellipse cx="1103" cy="450" rx="2.9" ry="5.45" fill="#3e3e3e"/>
<ellipse cx="1223.4" cy="414.7" rx="1.5" ry="1.5" fill="#bebebe"/>
<ellipse cx="229.5" cy="513.7" rx="4.5" ry="2.5" fill="#b2b2b2" transform="rotate(-30 229.5 513.7)"/>
<ellipse cx="310.7" cy="495" rx="3.75" ry="6.3" fill="#404040"/>
<ellipse cx="296.8" cy="499.8" rx="1.5" ry="5.5" fill="#bebebe"/>
<ellipse cx="318.6" cy="517.7" rx="7.5" ry="4.5" fill="#a2a2a2" transform="rotate(-30 318.6 517.7)"/>
<ellipse cx="409.7" cy="486" rx="2.5" ry="2.5" fill="#c6c6c6"/>
<ellipse cx="425.5" cy="543.4" rx="10.55" ry="4.175" fill="#4c4c4c" transform="rotate(-25 425.5 543.4)"/>
<ellipse cx="285" cy="576" rx="8.85" ry="12.25" fill="#4a4a4a"/>
<ellipse cx="294" cy="611" rx="8.85" ry="9.7" fill="#4e4e4e" transform="rotate(-20 294 611)"/>
<ellipse cx="225" cy="648" rx="3.75" ry="7.15" fill="#494949"/>
<ellipse cx="179" cy="610" rx="3.5" ry="12.5" fill="#afafaf" transform="rotate(8 179 610)"/>
<ellipse cx="384" cy="604.8" rx="6.5" ry="10.5" fill="#b0b0b0" transform="rotate(30 384 604.8)"/>
<ellipse cx="409.7" cy="582" rx="5.5" ry="2.5" fill="#b3b3b3"/>
<ellipse cx="332.4" cy="620.6" rx="4.5" ry="7.5" fill="#9e9e9e"/>
<ellipse cx="261" cy="672" rx="2.9" ry="2.9" fill="#2a2a2a"/>
<ellipse cx="455.8" cy="531.5" rx="11.4" ry="5.45" fill="#4f4f4f" transform="rotate(-25 455.8 531.5)"/>
<ellipse cx="485" cy="515" rx="8" ry="9.7" fill="#474747"/>
<path d="M524 490 L530 488 L536 496 L548 500 L551 520 L551 548 L540 554 L528 548 L522 535 L518 520 L516 508 L520 498Z" fill="#a7a7a7"/>
<ellipse cx="533" cy="510" rx="4" ry="7" fill="#848484"/>
<ellipse cx="559.8" cy="555.3" rx="2.5" ry="2.5" fill="#c6c6c6"/>
<ellipse cx="543" cy="486" rx="2.05" ry="2.05" fill="#333333"/>
<ellipse cx="582.6" cy="555.3" rx="2.9" ry="2.9" fill="#333333"/>
<ellipse cx="669.7" cy="497.9" rx="3.75" ry="3.75" fill="#1a1a1a"/>
<ellipse cx="675.6" cy="515.7" rx="4.5" ry="2.5" fill="#d6d6d6" transform="rotate(-30 675.6 515.7)"/>
<ellipse cx="699.4" cy="515.7" rx="4.6" ry="3.75" fill="#3b3b3b"/>
<ellipse cx="675.6" cy="485" rx="2.5" ry="1.5" fill="#c6c6c6"/>
<ellipse cx="510.3" cy="638.5" rx="4.5" ry="8.5" fill="#b0b0b0"/>
<ellipse cx="572.7" cy="626.6" rx="3.75" ry="6.3" fill="#404040"/>
<ellipse cx="668.7" cy="585" rx="1.5" ry="4.5" fill="#c6c6c6"/>
<ellipse cx="642" cy="573" rx="1.5" ry="3.5" fill="#b2b2b2"/>
<ellipse cx="581.6" cy="572" rx="1.5" ry="1.5" fill="#b6b6b6"/>
<ellipse cx="630" cy="648.4" rx="3.75" ry="6.3" fill="#4b4b4b" transform="rotate(-30 630 648.4)"/>
<ellipse cx="610.3" cy="670" rx="9.7" ry="3.75" fill="#585858" transform="rotate(-30 610.3 670)"/>
<ellipse cx="612.3" cy="636.5" rx="3.75" ry="3.75" fill="#505050"/>
<ellipse cx="519.2" cy="583" rx="8" ry="6" fill="#696969"/>
<path d="M716 488 L724 487 L729 500 L736 515 L748 534 L749 550 L740 557 L728 553 L717 541 L711 525 L711 508 L713 495Z" fill="#acacac"/>
<ellipse cx="720" cy="500" rx="4.5" ry="7.5" fill="#cdcdcd"/>
<ellipse cx="727" cy="527" rx="5.5" ry="4.5" fill="#d2d2d2"/>
<ellipse cx="740.6" cy="495.9" rx="3.75" ry="6.3" fill="#404040" transform="rotate(20 740.6 495.9)"/>
<ellipse cx="763.4" cy="541.4" rx="6.3" ry="7.15" fill="#484848"/>
<ellipse cx="822.8" cy="512.7" rx="4.6" ry="4.6" fill="#363636"/>
<ellipse cx="807" cy="489" rx="2.05" ry="3.75" fill="#333333"/>
<ellipse cx="817.9" cy="494.9" rx="2.5" ry="5.5" fill="#bababa" transform="rotate(30 817.9 494.9)"/>
<ellipse cx="800" cy="510.7" rx="4.5" ry="3.5" fill="#ababab"/>
<ellipse cx="809" cy="528.6" rx="5.5" ry="3.5" fill="#a6a6a6" transform="rotate(-30 809 528.6)"/>
<ellipse cx="845.6" cy="513.7" rx="4.5" ry="3.5" fill="#ababab"/>
<ellipse cx="785.2" cy="485" rx="3.5" ry="1.5" fill="#c6c6c6"/>
<ellipse cx="900" cy="517.7" rx="1.5" ry="1.5" fill="#b6b6b6"/>
<ellipse cx="907" cy="539.4" rx="2.5" ry="2.5" fill="#b6b6b6"/>
<ellipse cx="898" cy="500" rx="2" ry="6" fill="#aaaaaa"/>
<ellipse cx="928.8" cy="494.9" rx="2.9" ry="5.45" fill="#545454"/>
<ellipse cx="935.7" cy="540.4" rx="3.75" ry="3.75" fill="#505050"/>
<ellipse cx="955.5" cy="544.4" rx="2.5" ry="1.5" fill="#b6b6b6"/>
<ellipse cx="941.6" cy="498.9" rx="1.5" ry="3.5" fill="#b2b2b2"/>
<ellipse cx="748.6" cy="578" rx="5" ry="5" fill="#636363"/>
<ellipse cx="966.4" cy="526.6" rx="1.5" ry="6.3" fill="#3c3c3c"/>
<ellipse cx="797" cy="648.4" rx="4" ry="4" fill="#6f6f6f"/>
<ellipse cx="975" cy="533.5" rx="5.45" ry="13.1" fill="#434343"/>
<ellipse cx="991.8" cy="507.8" rx="6.3" ry="2.9" fill="#444444" transform="rotate(-20 991.8 507.8)"/>
<ellipse cx="1003.6" cy="539.4" rx="11.5" ry="13.5" fill="#a7a7a7"/>
<ellipse cx="1010.6" cy="547.4" rx="6.5" ry="8.5" fill="#b9b9b9"/>
<ellipse cx="1017.5" cy="509.7" rx="1.5" ry="1.5" fill="#b6b6b6"/>
<ellipse cx="1035.3" cy="558.3" rx="14" ry="7" fill="#3b3b3b" transform="rotate(40 1035.3 558.3)"/>
<ellipse cx="1054" cy="552" rx="8.5" ry="12.5" fill="#c4c4c4" transform="rotate(-35 1054 552)"/>
<ellipse cx="1057" cy="558" rx="5.5" ry="6.5" fill="#ececec"/>
<ellipse cx="1049.2" cy="582" rx="7.5" ry="4.5" fill="#b7b7b7" transform="rotate(-40 1049.2 582)"/>
<ellipse cx="1063" cy="620.6" rx="1.5" ry="4.5" fill="#b6b6b6"/>
<ellipse cx="1101.7" cy="566.2" rx="3.5" ry="3.5" fill="#b6b6b6"/>
<ellipse cx="1137.3" cy="572" rx="1.5" ry="3.5" fill="#b2b2b2"/>
<ellipse cx="1175" cy="575" rx="2.5" ry="2.5" fill="#bebebe"/>
<ellipse cx="1004.6" cy="586" rx="3.75" ry="4.6" fill="#4f4f4f"/>
<ellipse cx="1191.8" cy="489" rx="4.5" ry="5.5" fill="#b4b4b4"/>
<ellipse cx="1210.6" cy="488" rx="2.05" ry="2.05" fill="#3c3c3c"/>
<path d="M1152 615 L1160 601 L1175 596 L1190 604 L1198 625 L1210 640 L1232 650 L1232 690 L1168 690 L1167 660 L1163 640 L1154 630Z" fill="#464646"/>
<ellipse cx="1146" cy="640" rx="9" ry="24" fill="#686868"/>
<ellipse cx="1137" cy="665" rx="8" ry="12" fill="#686868"/>
<ellipse cx="1179.7" cy="613.9" rx="12" ry="10" fill="#262626"/>
<ellipse cx="1198.2" cy="639.4" rx="5" ry="9" fill="#000000"/>
<ellipse cx="1178.3" cy="662.2" rx="8" ry="14" fill="#2a2a2a"/>
<ellipse cx="1212.4" cy="667.8" rx="11" ry="11" fill="#2f2f2f"/>
<ellipse cx="1192" cy="628" rx="8" ry="8" fill="#2c2c2c"/>
<ellipse cx="1184.5" cy="650" rx="3.5" ry="5" fill="#757575"/>
<ellipse cx="1166" cy="670" rx="2.9" ry="8" fill="#5c5c5c"/>
<ellipse cx="1191" cy="588.3" rx="6.5" ry="8.5" fill="#adadad"/>
<path d="M1209 578 L1205 590 L1196 604 L1194 618 L1201 630" fill="none" stroke="#d9d9d9" stroke-width="11.85" stroke-linecap="round" stroke-linejoin="round"/>
<path d="M1194.5 610 L1199.5 595 L1207 592.5 L1214 596.5 L1219 608.5 L1211 616 L1204 623 L1202 629.5 L1195 623Z" fill="#ffffff"/>
<ellipse cx="1217" cy="602" rx="1.5" ry="1.5" fill="#d6d6d6"/>
</g>
<path d="M897 282 L899.7 288 L911 297 L925.7 301.8 L937 306.7 L954.9 314 L969.5 318 L983.3 321.6 L993.8 316.4 L1002 313.5 L1010 314 L1019.8 318.9 L1027.9 326.2 L1036 333.5 L1045.7 340.8 L1058.7 347.3 L1070 348.9 L1077.2 352.4" fill="none" stroke="#fff" stroke-width="7" stroke-linejoin="miter"/>
<path d="M1077.2 352.4 L1080.8 355.4 L1088 356 L1094 359 L1108.4 360.2 L1111.4 356.4 L1116.8 362 L1112 363.8 L1124 376.4 L1127 380 L1140.5 389.5 L1139.5 403 L1143 409 L1149.5 412.5 L1154.5 409 L1159 414 L1169 420 L1172 427 L1171 430.5 L1178 432 L1182 435.5 L1186 434 L1195 436 L1202 439 L1205 442.5 L1212 443 L1213.5 450.5 L1225 447 L1234 444.5 L1234 444" fill="none" stroke="#fff" stroke-width="9" stroke-linejoin="miter"/>
<path d="M1234 444 L1225 444 L1221.5 441.5 L1219.5 436.5 L1225 434 L1234 431 L1234 418 L1225 421 L1205 427 L1194 422 L1190 415 L1180 407 L1174 398 L1169.5 389 L1172 376.4 L1174.4 366.8 L1175.6 348.8 L1179 342.8 L1177.4 330.2 L1169.6 326 L1162.4 320 L1152.8 317.6 L1144.4 319 L1137.2 317.6 L1121.6 321.2 L1112 319.4 L1104.8 322.6 L1092.2 316.4 L1099.4 311 L1102.4 302 L1103.6 287.6 L1104 282" fill="none" stroke="#fff" stroke-width="13" stroke-linejoin="miter"/>
<path d="M1234 560.5 L1225 561 L1221 562 L1219.5 569.8 L1213.8 573.4 L1216 582.6 L1213.8 593.3 L1218.8 596.8 L1223.8 602.5 L1234 605Z" fill="#fff" stroke="#fff" stroke-width="10" stroke-linejoin="miter"/>
<path d="M1234 607 L1225 609.6 L1215.2 616 L1207.4 623 L1207.4 631 L1211.7 639.4 L1214.5 644.4 L1209.5 648.7 L1218 655 L1225 658.6 L1234 661Z" fill="#fff" stroke="#fff" stroke-width="10" stroke-linejoin="miter"/>
<rect x="1049" y="568" width="18" height="8" fill="#fff"/>
<path d="M897 282 L899.7 288 L911 297 L925.7 301.8 L937 306.7 L954.9 314 L969.5 318 L983.3 321.6 L993.8 316.4 L1002 313.5 L1010 314 L1019.8 318.9 L1027.9 326.2 L1036 333.5 L1045.7 340.8 L1058.7 347.3 L1070 348.9 L1077.2 352.4 L1080.8 355.4 L1088 356 L1094 359 L1108.4 360.2 L1111.4 356.4 L1116.8 362 L1112 363.8 L1124 376.4 L1127 380 L1140.5 389.5 L1139.5 403 L1143 409 L1149.5 412.5 L1154.5 409 L1159 414 L1169 420 L1172 427 L1171 430.5 L1178 432 L1182 435.5 L1186 434 L1195 436 L1202 439 L1205 442.5 L1212 443 L1213.5 450.5 L1225 447 L1234 444.5 L1234 444 L1225 444 L1221.5 441.5 L1219.5 436.5 L1225 434 L1234 431 L1234 418 L1225 421 L1205 427 L1194 422 L1190 415 L1180 407 L1174 398 L1169.5 389 L1172 376.4 L1174.4 366.8 L1175.6 348.8 L1179 342.8 L1177.4 330.2 L1169.6 326 L1162.4 320 L1152.8 317.6 L1144.4 319 L1137.2 317.6 L1121.6 321.2 L1112 319.4 L1104.8 322.6 L1092.2 316.4 L1099.4 311 L1102.4 302 L1103.6 287.6 L1104 282Z" fill="#808080" stroke="#000" stroke-width="1.3" stroke-linejoin="round"/>
<path d="M1234 560.5 L1225 561 L1221 562 L1219.5 569.8 L1213.8 573.4 L1216 582.6 L1213.8 593.3 L1218.8 596.8 L1223.8 602.5 L1234 605Z" fill="#808080" stroke="#000" stroke-width="1.3" stroke-linejoin="round"/>
<path d="M1234 607 L1225 609.6 L1215.2 616 L1207.4 623 L1207.4 631 L1211.7 639.4 L1214.5 644.4 L1209.5 648.7 L1218 655 L1225 658.6 L1234 661Z" fill="#808080" stroke="#000" stroke-width="1.3" stroke-linejoin="round"/>
<path d="M1055.1 558.3 L1059 562.2 L1064 569 L1060 574.7 L1055 572 L1058 569 L1054.5 566Z" fill="#808080" stroke="#000" stroke-width="1.3" stroke-linejoin="round"/>
</g>
<g stroke="#000" stroke-width="1" stroke-dasharray="1 3" fill="none">
<line x1="401.2" x2="401.2" y1="286" y2="679"/>
<line x1="626.4" x2="626.4" y1="286" y2="679"/>
<line x1="851.6" x2="851.6" y1="286" y2="679"/>
<line x1="1076.9" x2="1076.9" y1="286" y2="679"/>
<line x1="176" x2="1227" y1="332.0" y2="332.0"/>
<line x1="176" x2="1227" y1="407.8" y2="407.8"/>
<line x1="176" x2="1227" y1="483.5" y2="483.5"/>
<line x1="176" x2="1227" y1="559.2" y2="559.2"/>
<line x1="176" x2="1227" y1="635.0" y2="635.0"/>
</g>
<g stroke="#000" stroke-width="4" fill="none">
<line x1="401.2" x2="401.2" y1="286" y2="296"/>
<line x1="401.2" x2="401.2" y1="679" y2="669"/>
<line x1="626.4" x2="626.4" y1="286" y2="296"/>
<line x1="626.4" x2="626.4" y1="679" y2="669"/>
<line x1="851.6" x2="851.6" y1="286" y2="296"/>
<line x1="851.6" x2="851.6" y1="679" y2="669"/>
<line x1="1076.9" x2="1076.9" y1="286" y2="296"/>
<line x1="1076.9" x2="1076.9" y1="679" y2="669"/>
<line x1="176" x2="186" y1="332.0" y2="332.0"/>
<line x1="1227" x2="1217" y1="332.0" y2="332.0"/>
<line x1="176" x2="186" y1="407.8" y2="407.8"/>
<line x1="1227" x2="1217" y1="407.8" y2="407.8"/>
<line x1="176" x2="186" y1="483.5" y2="483.5"/>
<line x1="1227" x2="1217" y1="483.5" y2="483.5"/>
<line x1="176" x2="186" y1="559.2" y2="559.2"/>
<line x1="1227" x2="1217" y1="559.2" y2="559.2"/>
<line x1="176" x2="186" y1="635.0" y2="635.0"/>
<line x1="1227" x2="1217" y1="635.0" y2="635.0"/>
</g>
<rect x="176" y="286" width="1051" height="393" fill="none" stroke="#000" stroke-width="4.4" stroke-linejoin="round"/>
<text x="171.2" y="340.9" font-size="16.67" text-anchor="end" fill="#000">15<tspan font-size="13.33" dy="-8">o</tspan><tspan dy="8">N</tspan></text>
<text x="171.2" y="416.7" font-size="16.67" text-anchor="end" fill="#000">10<tspan font-size="13.33" dy="-8">o</tspan><tspan dy="8">N</tspan></text>
<text x="171.2" y="492.4" font-size="16.67" text-anchor="end" fill="#000">5<tspan font-size="13.33" dy="-8">o</tspan><tspan dy="8">N</tspan></text>
<text x="165.3" y="568.1" font-size="16.67" text-anchor="end" fill="#000">0<tspan font-size="13.33" dy="-8">o</tspan><tspan dy="8"></tspan></text>
<text x="171.2" y="643.9" font-size="16.67" text-anchor="end" fill="#000">5<tspan font-size="13.33" dy="-8">o</tspan><tspan dy="8">S</tspan></text>
<text x="176.1" y="700.9" font-size="16.67" text-anchor="middle" fill="#000">150<tspan font-size="13.33" dy="-8">o</tspan><tspan dy="8">W</tspan></text>
<text x="401.3" y="700.9" font-size="16.67" text-anchor="middle" fill="#000">135<tspan font-size="13.33" dy="-8">o</tspan><tspan dy="8">W</tspan></text>
<text x="626.5" y="700.9" font-size="16.67" text-anchor="middle" fill="#000">120<tspan font-size="13.33" dy="-8">o</tspan><tspan dy="8">W</tspan></text>
<text x="851.7" y="700.9" font-size="16.67" text-anchor="middle" fill="#000">105<tspan font-size="13.33" dy="-8">o</tspan><tspan dy="8">W</tspan></text>
<text x="1077.0" y="700.9" font-size="16.67" text-anchor="middle" fill="#000">90<tspan font-size="13.33" dy="-8">o</tspan><tspan dy="8">W</tspan></text>
<text x="706" y="234.8" font-size="31.45" font-weight="bold" text-anchor="middle" fill="#000">AVHRR Zonal Sea Surface Temperature Gradient</text>
<text x="701.6" y="275.2" font-size="24.6" font-weight="bold" text-anchor="middle" fill="#000">2011-01-07</text>
<rect x="174.5" y="711.5" width="1050" height="19" fill="url(#cb)" stroke="#262626" stroke-width="1"/>
<g stroke="#262626" stroke-width="1">
<line x1="349.5" x2="349.5" y1="720" y2="731"/>
<line x1="524.5" x2="524.5" y1="720" y2="731"/>
<line x1="699.5" x2="699.5" y1="720" y2="731"/>
<line x1="874.5" x2="874.5" y1="720" y2="731"/>
<line x1="1049.5" x2="1049.5" y1="720" y2="731"/>
</g>
<g font-size="16.67" fill="#262626" text-anchor="middle">
<text x="174.5" y="754.8">-0.03</text>
<text x="349.5" y="754.8">-0.02</text>
<text x="524.5" y="754.8">-0.01</text>
<text x="699.5" y="754.8">0</text>
<text x="874.5" y="754.8">0.01</text>
<text x="1049.5" y="754.8">0.02</text>
<text x="1224.5" y="754.8">0.03</text>
<text x="700" y="778.8">°C/km</text>
</g>
</svg></body></html>
